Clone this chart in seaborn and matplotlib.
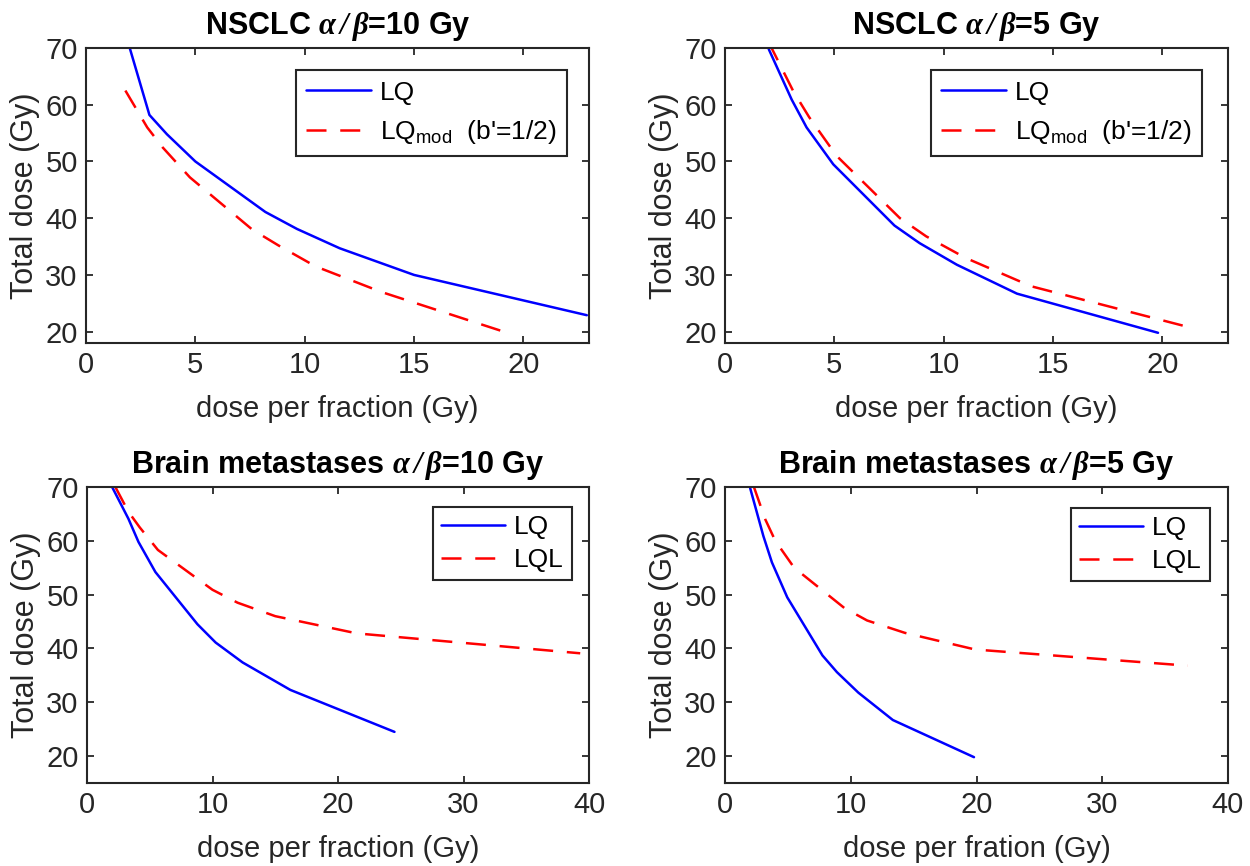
import matplotlib
matplotlib.use("Agg")
import matplotlib.pyplot as plt
from matplotlib.lines import Line2D
import seaborn as sns

# ---------------- data ----------------
nsclc10_lq_d = [2.0, 2.9, 3.7, 5.0, 8.2, 9.65, 11.6, 15.0, 22.9]
nsclc10_lq_D = [70.0, 58.2, 54.8, 50.0, 41.1, 38.1, 34.7, 30.0, 22.9]
nsclc10_mod_d = [1.8, 2.8, 3.5, 4.75, 7.6, 8.8, 10.5, 13.5, 19.5]
nsclc10_mod_D = [62.5, 56.0, 52.5, 47.2, 38.0, 35.2, 31.5, 27.0, 19.5]

nsclc5_lq_d = [2.0, 3.05, 3.73, 4.95, 7.75, 8.9, 10.6, 13.35, 19.8]
nsclc5_lq_D = [69.8, 60.9, 56.0, 49.5, 38.7, 35.6, 31.8, 26.7, 19.8]
nsclc5_mod_d = [2.0, 3.12, 3.85, 5.1, 8.0, 9.2, 11.0, 14.0, 21.0]
nsclc5_mod_D = [71.0, 62.4, 57.8, 51.0, 40.0, 36.8, 33.0, 28.0, 21.0]

brain10_lq_d = [2.0, 3.3, 4.1, 5.45, 8.8, 10.25, 12.4, 16.2, 24.5]
brain10_lq_D = [70.0, 64.1, 59.8, 54.2, 44.5, 41.1, 37.4, 32.3, 24.5]
brain10_lql_d = [2.26, 3.3, 4.2, 5.65, 10.0, 12.0, 15.0, 21.5, 39.3]
brain10_lql_D = [70.0, 65.4, 62.5, 58.3, 50.9, 48.5, 46.0, 42.8, 39.1]

brain5_lq_d = [2.0, 3.05, 3.73, 4.95, 7.75, 8.9, 10.6, 13.35, 19.8]
brain5_lq_D = [69.8, 60.9, 56.0, 49.5, 38.7, 35.6, 31.8, 26.7, 19.8]
brain5_lql_d = [2.3, 3.2, 4.0, 5.5, 9.5, 11.3, 14.3, 19.9, 36.8]
brain5_lql_D = [70.0, 64.0, 60.0, 55.0, 47.5, 45.2, 42.9, 39.8, 36.8]

titles = [r"NSCLC $\mathbfit{\alpha}\,\mathbfit{/}\,\mathbfit{\beta}$=10 Gy",
          r"NSCLC $\mathbfit{\alpha}\,\mathbfit{/}\,\mathbfit{\beta}$=5 Gy",
          r"Brain metastases $\mathbfit{\alpha}\,\mathbfit{/}\,\mathbfit{\beta}$=10 Gy",
          r"Brain metastases $\mathbfit{\alpha}\,\mathbfit{/}\,\mathbfit{\beta}$=5 Gy"]
xlabels = ["dose per fraction (Gy)", "dose per fraction (Gy)",
           "dose per fraction (Gy)", "dose per fration (Gy)"]
ylabel = "Total dose (Gy)"
legend_labels = [["LQ", r"LQ$_{\mathrm{mod}}$  (b'=1/2)"],
                 ["LQ", r"LQ$_{\mathrm{mod}}$  (b'=1/2)"],
                 ["LQ", "LQL"],
                 ["LQ", "LQL"]]
xlims = [(0, 23), (0, 23), (0, 40), (0, 40)]
ylims = [(18, 70), (18, 70), (15, 70), (15, 70)]
xticks = [[0, 5, 10, 15, 20], [0, 5, 10, 15, 20], [0, 10, 20, 30, 40], [0, 10, 20, 30, 40]]
yticks = [20, 30, 40, 50, 60, 70]

series = [
    (nsclc10_lq_d, nsclc10_lq_D, nsclc10_mod_d, nsclc10_mod_D),
    (nsclc5_lq_d, nsclc5_lq_D, nsclc5_mod_d, nsclc5_mod_D),
    (brain10_lq_d, brain10_lq_D, brain10_lql_d, brain10_lql_D),
    (brain5_lq_d, brain5_lq_D, brain5_lql_d, brain5_lql_D),
]

# ---------------- style ----------------
sns.set_theme(style="ticks")
TXT = "#262626"
plt.rcParams.update({
    "font.family": ["Liberation Sans", "DejaVu Sans"],
    "mathtext.fontset": "custom",
    "mathtext.rm": "Liberation Sans",
    "mathtext.it": "Liberation Sans:italic",
    "mathtext.bf": "Liberation Sans:bold",
    "mathtext.bfit": "Liberation Serif:italic:bold",
    "axes.edgecolor": TXT,
    "axes.labelcolor": TXT,
    "xtick.color": TXT,
    "ytick.color": TXT,
})

W, H = 1250, 866
fig = plt.figure(figsize=(W / 100, H / 100), dpi=100)
fig.patch.set_facecolor("white")

rects_px = [(86, 48, 589, 343), (725, 48, 1228, 343),
            (87, 487, 589, 783), (725, 487, 1228, 783)]
leg_anchor = [(0.956, 0.925), (0.948, 0.925), (0.966, 0.932), (0.964, 0.929)]

FS = 21
LFS = 19
DASH = (0, (8, 5.5))
for i, (l, t, r, b) in enumerate(rects_px):
    ax = fig.add_axes([l / W, 1 - b / H, (r - l) / W, (b - t) / H])
    ax.set_facecolor("white")
    d1, D1, d2, D2 = series[i]
    sns.lineplot(x=d1, y=D1, ax=ax, color=(0, 0, 1), linewidth=1.8,
                 estimator=None, sort=False, errorbar=None)
    sns.lineplot(x=d2, y=D2, ax=ax, color=(1, 0, 0), linewidth=1.8,
                 estimator=None, sort=False, errorbar=None)
    ax.lines[1].set_linestyle(DASH)
    ax.set_xlim(*xlims[i])
    ax.set_ylim(*ylims[i])
    ax.set_xticks(xticks[i])
    ax.set_yticks(yticks)
    ax.tick_params(direction="in", top=True, right=True, length=5, width=1.3,
                   labelsize=FS, pad=6, colors=TXT)
    for sp in ax.spines.values():
        sp.set_visible(True)
        sp.set_linewidth(1.5)
        sp.set_color(TXT)
    ax.set_xlabel(xlabels[i], fontsize=FS, color=TXT, labelpad=11)
    ax.set_ylabel(ylabel, fontsize=FS + 1, color=TXT, labelpad=4)
    ax.set_title(titles[i], fontsize=22, fontweight="bold", color="black", pad=10)
    h1 = Line2D([], [], color=(0, 0, 1), linewidth=1.8)
    h2 = Line2D([], [], color=(1, 0, 0), linewidth=1.8, linestyle=DASH)
    top = i < 2
    leg = ax.legend([h1, h2], legend_labels[i], loc="upper right",
                    bbox_to_anchor=leg_anchor[i], bbox_transform=ax.transAxes,
                    borderaxespad=0, fontsize=LFS, frameon=True, fancybox=False,
                    shadow=False, framealpha=1, edgecolor=TXT,
                    handlelength=2.45, handletextpad=0.34,
                    labelspacing=0.5 if top else 0.34,
                    borderpad=0.4 if top else 0.3)
    leg.get_frame().set_linewidth(1.5)
    for txt in leg.get_texts():
        txt.set_color("black")

fig.savefig("out.png", dpi=100, facecolor="white")
